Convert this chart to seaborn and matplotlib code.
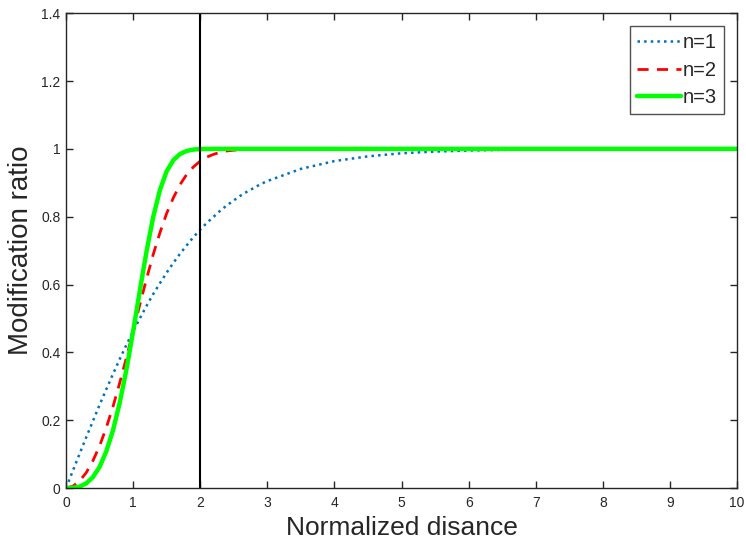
import matplotlib
matplotlib.use("Agg")
import matplotlib.pyplot as plt
import seaborn as sns
import pandas as pd

x = [0.0, 0.1, 0.2, 0.3, 0.4, 0.5, 0.6, 0.7, 0.8, 0.9,
     1.0, 1.1, 1.2, 1.3, 1.4, 1.5, 1.6, 1.7, 1.8, 1.9,
     2.0, 2.1, 2.2, 2.3, 2.4, 2.5, 2.6, 2.7, 2.8, 2.9,
     3.0, 3.5, 4.0, 4.5, 5.0, 5.5, 6.0, 6.5, 7.0, 7.5,
     8.0, 8.5, 9.0, 9.5, 10.0]

n1 = [0.0, 0.050, 0.0997, 0.149, 0.197, 0.245, 0.291, 0.336, 0.380, 0.422,
      0.462, 0.500, 0.537, 0.572, 0.604, 0.635, 0.664, 0.691, 0.716, 0.740,
      0.762, 0.782, 0.800, 0.818, 0.834, 0.848, 0.862, 0.874, 0.885, 0.896,
      0.905, 0.941, 0.964, 0.978, 0.987, 0.992, 0.995, 0.997, 0.998, 0.999,
      0.9993, 0.9996, 0.9998, 0.9999, 0.9999]

n2 = [0.0, 0.005, 0.020, 0.045, 0.080, 0.124, 0.178, 0.240, 0.310, 0.384,
      0.462, 0.541, 0.617, 0.689, 0.753, 0.810, 0.856, 0.895, 0.925, 0.947,
      0.964, 0.976, 0.984, 0.990, 0.994, 0.996, 0.998, 0.9986, 0.9992, 0.9996,
      0.9998, 1.0, 1.0, 1.0, 1.0, 1.0, 1.0, 1.0, 1.0, 1.0,
      1.0, 1.0, 1.0, 1.0, 1.0]

n3 = [0.0, 0.0005, 0.004, 0.0135, 0.032, 0.062, 0.108, 0.170, 0.251, 0.349,
      0.462, 0.582, 0.698, 0.800, 0.879, 0.934, 0.967, 0.985, 0.994, 0.998,
      0.9993, 0.9998, 1.0, 1.0, 1.0, 1.0, 1.0, 1.0, 1.0, 1.0,
      1.0, 1.0, 1.0, 1.0, 1.0, 1.0, 1.0, 1.0, 1.0, 1.0,
      1.0, 1.0, 1.0, 1.0, 1.0]

labels = ["n=1", "n=2", "n=3"]
x_ticks = [0, 1, 2, 3, 4, 5, 6, 7, 8, 9, 10]
y_ticks = [0, 0.2, 0.4, 0.6, 0.8, 1.0, 1.2, 1.4]
y_tick_labels = ["0", "0.2", "0.4", "0.6", "0.8", "1", "1.2", "1.4"]
vline_x = 2

sns.set_style("ticks")
plt.rcParams["font.family"] = ["Liberation Sans", "DejaVu Sans"]

df = pd.DataFrame({"x": x, "n1": n1, "n2": n2, "n3": n3})

fig = plt.figure(figsize=(7.46, 5.5), dpi=100)
ax = fig.add_axes([0.0885, 0.1127, 0.8995, 0.8633])

sns.lineplot(data=df, x="x", y="n1", ax=ax, color="#0072BD", linestyle=":",
             linewidth=1.8, label=labels[0])
sns.lineplot(data=df, x="x", y="n2", ax=ax, color="#FF0000", linestyle=(0, (4, 3)),
             linewidth=2.0, label=labels[1])
sns.lineplot(data=df, x="x", y="n3", ax=ax, color="#00FF00", linestyle="-",
             linewidth=3.2, label=labels[2])
ax.axvline(vline_x, color="black", linewidth=1.5)

ax.set_xlim(0, 10)
ax.set_ylim(0, 1.4)
ax.set_xticks(x_ticks)
ax.set_xticklabels([str(t) for t in x_ticks])
ax.set_yticks(y_ticks)
ax.set_yticklabels(y_tick_labels)
ax.tick_params(direction="in", length=5, width=1, top=True, right=True,
               labelsize=10, colors="#262626")
ax.tick_params(axis="y", pad=4)
ax.tick_params(axis="x", pad=6)
for s in ax.spines.values():
    s.set_visible(True)
    s.set_color("#262626")
    s.set_linewidth(1.0)

ax.set_xlabel("Normalized disance", fontsize=19, color="#262626", labelpad=4)
ax.set_ylabel("Modification ratio", fontsize=20, color="#262626", labelpad=5)

leg = ax.legend(loc="upper right", fontsize=14.5, frameon=True, fancybox=False,
                edgecolor="#262626", handlelength=2.15, handletextpad=0.1,
                borderpad=0.35, labelspacing=0.42, borderaxespad=0.65)
leg.get_frame().set_linewidth(1.0)

fig.savefig("out.png", dpi=100)
